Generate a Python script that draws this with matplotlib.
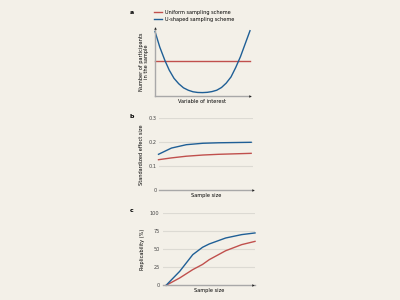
import matplotlib
matplotlib.use("Agg")
import matplotlib.pyplot as plt

BG = "#f3f0e8"
BLUE = "#1f5f96"
RED = "#c0504d"
GRID = "#dcdad3"
AXC = "#a8a8a8"

# Panel a
a_x = [0, 0.05, 0.105, 0.15, 0.2, 0.25, 0.3, 0.35, 0.4, 0.45, 0.5, 0.55, 0.6, 0.65, 0.7, 0.75, 0.8, 0.85, 0.9, 0.95, 1.0]
a_ushaped = [0.95, 0.72, 0.52, 0.38, 0.26, 0.18, 0.12, 0.085, 0.062, 0.052, 0.05, 0.054, 0.065, 0.085, 0.125, 0.19, 0.28, 0.42, 0.58, 0.77, 0.96]
a_uniform = [0.52] * len(a_x)

# Panel b
b_x = [0, 0.14, 0.3, 0.48, 0.65, 1.0]
b_ushaped = [0.150, 0.176, 0.190, 0.196, 0.198, 0.200]
b_uniform = [0.1275, 0.135, 0.142, 0.147, 0.150, 0.154]
b_yticks = [0, 0.1, 0.2, 0.3]
b_yticklabels = ["0", "0.1", "0.2", "0.3"]

# Panel c
c_x = [0, 0.153, 0.3, 0.41, 0.485, 0.67, 0.85, 1.0]
c_ushaped = [0, 19.4, 42.6, 52.8, 57.4, 65.7, 70.4, 72.7]
c_uniform = [0, 10.2, 21.8, 29.0, 35.6, 48.0, 56.5, 61.0]
c_yticks = [0, 25, 50, 75, 100]

legend_labels = ["Uniform sampling scheme", "U-shaped sampling scheme"]

FS = 3.6
plt.rcParams["font.family"] = ["DejaVu Sans"]

fig = plt.figure(figsize=(4, 3), dpi=100, facecolor=BG)

def arrow(ax, x, y, marker):
    ax.plot([x], [y], marker=marker, color="#222222", markersize=1.8,
            transform=ax.transAxes, clip_on=False, zorder=5, markeredgewidth=0)

# ---- a
ax = fig.add_axes([155/400, 1-96/300, 95/400, 68/300])
ax.set_facecolor(BG)
ax.plot(a_x, a_uniform, color=RED, lw=1.0, label=legend_labels[0], clip_on=False)
ax.plot(a_x, a_ushaped, color=BLUE, lw=1.0, label=legend_labels[1], clip_on=False)
ax.set_xlim(0, 1)
ax.set_ylim(0, 1)
for s in ["top", "right"]:
    ax.spines[s].set_visible(False)
for s in ["left", "bottom"]:
    ax.spines[s].set_color(AXC)
    ax.spines[s].set_linewidth(1.0)
ax.set_xticks([]); ax.set_yticks([])
arrow(ax, 0, 1, "^")
arrow(ax, 1, 0, ">")
ax.set_xlabel("Variable of interest", fontsize=FS, labelpad=2)
ax.set_ylabel("Number of participants\nin the sample", fontsize=FS, labelpad=4)
leg = ax.legend(loc="lower left", bbox_to_anchor=(-0.01, 1.09), frameon=False,
                fontsize=FS, handlelength=1.6, handletextpad=0.5,
                labelspacing=0.35, borderpad=0, borderaxespad=0)
fig.text(130/400, 1-12/300, "a", fontsize=4.5, fontweight="bold", va="center")

# ---- b
ax = fig.add_axes([158.5/400, 1-190.3/300, 94.5/400, 72/300])
ax.set_facecolor(BG)
for yv in b_yticks[1:]:
    ax.axhline(yv, color=GRID, lw=0.8, zorder=0)
ax.plot(b_x, b_uniform, color=RED, lw=1.0, clip_on=False)
ax.plot(b_x, b_ushaped, color=BLUE, lw=1.0, clip_on=False)
ax.set_xlim(0, 1.02)
ax.set_ylim(0, 0.3)
for s in ["top", "right", "left"]:
    ax.spines[s].set_visible(False)
ax.spines["bottom"].set_color(AXC)
ax.spines["bottom"].set_linewidth(1.0)
ax.set_xticks([])
ax.set_yticks(b_yticks)
ax.tick_params(axis="y", length=0, labelsize=FS, pad=1.5, labelcolor="#444444")
arrow(ax, 1, 0, ">")
ax.set_xlabel("Sample size", fontsize=FS, labelpad=2)
ax.set_yticklabels(b_yticklabels)
ax.set_ylabel("Standardized effect size", fontsize=FS, labelpad=3.5)
fig.text(130/400, 1-117/300, "b", fontsize=4.5, fontweight="bold", va="center")

# ---- c
ax = fig.add_axes([163/400, 1-285.3/300, 92/400, 72/300])
ax.set_facecolor(BG)
for yv in c_yticks[1:]:
    ax.axhline(yv, color=GRID, lw=0.8, zorder=0)
ax.plot(c_x, c_uniform, color=RED, lw=1.0, clip_on=False)
ax.plot(c_x, c_ushaped, color=BLUE, lw=1.0, clip_on=False)
ax.set_xlim(-0.035, 1.0)
ax.set_ylim(0, 100)
for s in ["top", "right", "left"]:
    ax.spines[s].set_visible(False)
ax.spines["bottom"].set_color(AXC)
ax.spines["bottom"].set_linewidth(1.0)
ax.set_xticks([])
ax.set_yticks(c_yticks)
ax.tick_params(axis="y", length=0, labelsize=FS, pad=2.5, labelcolor="#444444")
arrow(ax, 0.98, 0, ">")
ax.set_xlabel("Sample size", fontsize=FS, labelpad=2)
ax.set_ylabel("Replicability (%)", fontsize=FS, labelpad=3.5)
fig.text(130/400, 1-210/300, "c", fontsize=4.5, fontweight="bold", va="center")

fig.savefig("out.png", dpi=100, facecolor=BG)
